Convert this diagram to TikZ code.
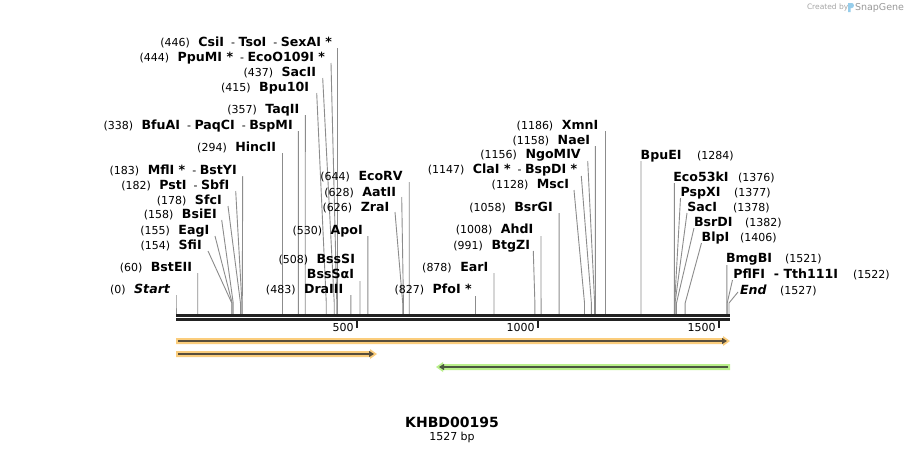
\documentclass[tikz,border=0pt]{standalone}
\usepackage{fontspec}
\setmainfont{DejaVu Sans}
\usetikzlibrary{arrows.meta,calc}
\definecolor{cutc}{RGB}{140,140,140}
\definecolor{bbc}{RGB}{34,34,34}
\definecolor{orf}{RGB}{251,205,124}
\definecolor{orl}{RGB}{88,78,60}
\definecolor{grf}{RGB}{186,240,140}
\definecolor{grl}{RGB}{74,88,62}
\definecolor{sgblue}{RGB}{150,205,235}
\newcommand\nm[1]{{\fontsize{12.6}{14}\selectfont\bfseries #1}}
\newcommand\gp{\hspace{8.5pt}}
\newcommand\dsh{\ \ -\ }
\tikzset{
  lab/.style={inner sep=0pt,outer sep=0pt,font=\fontsize{11}{13}\selectfont},
  cut/.style={draw=cutc,line width=0.9pt},
}
% left/middle label: id, text, right x, centre y, start x, start y, position
\newcommand\enzL[7]{%
  \node[lab,anchor=base east] (#1) at (#3,#4+4.5) {#2};
  \coordinate (#1-s) at (#5,#6);
  \coordinate (#1-b) at (176+#7*0.362148,303);
  \coordinate (#1-c) at (176+#7*0.362148,314);
  \draw[cut] (#1-s) -- (#1-b) -- (#1-c);
}
% right label: id, name, left x, centre y, number, number x, start x, start y, position
\newcommand\enzR[9]{%
  \node[lab,anchor=base west] (#1) at (#3,#4+4.5) {\nm{#2}};
  \node[lab,anchor=base west] (#1-n) at (#6,#4+4.5) {#5};
  \coordinate (#1-s) at (#7,#8);
  \coordinate (#1-b) at (176+#9*0.362148,303);
  \coordinate (#1-c) at (176+#9*0.362148,314);
  \draw[cut] (#1-s) -- (#1-b) -- (#1-c);
}
\begin{document}
\begin{tikzpicture}[x=1pt,y=-1pt]
\useasboundingbox (0,0) rectangle (906,453);
\fill[white] (0,0) rectangle (906,453);

% watermark
\node[lab,anchor=west,text=black!35,font=\fontsize{7.5}{9}\selectfont] (cb) at (807,7.5) {Created by};
\fill[sgblue] (848,3) -- (852,3) .. controls (854.5,3) and (854.5,8) .. (852,8) -- (850.5,8) -- (850.5,12) -- (848,12) -- cycle;
\node[lab,anchor=west,text=black!40,font=\fontsize{9.5}{11}\selectfont] (sg) at (855,7.5) {SnapGene};

% left cluster
\enzL{csi}{(446)\gp\nm{CsiI}\dsh\nm{TsoI}\dsh\nm{SexAI *}}{332}{42.3}{337.5}{48}{446}
\enzL{ppu}{(444)\gp\nm{PpuMI *}\dsh\nm{EcoO109I *}}{325}{57.3}{331}{63}{444}
\enzL{sac2}{(437)\gp\nm{SacII}}{316}{72.3}{322.7}{78}{437}
\enzL{bpu}{(415)\gp\nm{Bpu10I}}{309}{87.3}{316.7}{93}{415}
\enzL{taq}{(357)\gp\nm{TaqII}}{299.3}{109.3}{305.3}{115}{357}
\enzL{bfu}{(338)\gp\nm{BfuAI}\dsh\nm{PaqCI}\dsh\nm{BspMI}}{292.7}{125}{298.4}{131}{338}
\enzL{hinc}{(294)\gp\nm{HincII}}{276}{147.3}{282.5}{153}{294}
\enzL{mfl}{(183)\gp\nm{MflI *}\dsh\nm{BstYI}}{236.7}{170}{242.7}{176}{183}
\enzL{pst}{(182)\gp\nm{PstI}\dsh\nm{SbfI}}{229.3}{185}{235.7}{191}{182}
\enzL{sfc}{(178)\gp\nm{SfcI}}{221.7}{200}{228}{206}{178}
\enzL{bsie}{(158)\gp\nm{BsiEI}}{216.7}{214.3}{221.7}{220}{158}
\enzL{eag}{(155)\gp\nm{EagI}}{209.3}{230}{215}{236}{155}
\enzL{sfi}{(154)\gp\nm{SfiI}}{201.7}{245}{208}{251}{154}
\enzL{bste}{(60)\gp\nm{BstEII}}{192}{266.7}{197.7}{273}{60}
\enzL{start}{(0)\gp\nm{\itshape Start}}{170}{289.3}{176}{295}{0}

% middle cluster
\enzL{dra}{(483)\gp\nm{DraIII}}{343.3}{289.3}{350.9}{295}{483}
\enzL{bssa}{\nm{BssSαI}}{354}{274.3}{360}{281}{508}
\node[lab,anchor=base east] (bss) at (355,259.3+4.5) {(508)\gp\nm{BssSI}};
\enzL{apo}{(530)\gp\nm{ApoI}}{362.7}{230}{367.9}{236}{530}
\enzL{zra}{(626)\gp\nm{ZraI}}{389.3}{206.7}{395}{212}{626}
\enzL{aat}{(628)\gp\nm{AatII}}{396}{191.7}{401.7}{197}{628}
\enzL{ecorv}{(644)\gp\nm{EcoRV}}{402.7}{176}{409.2}{182}{644}
\enzL{pfo}{(827)\gp\nm{PfoI *}}{471.7}{289.3}{475.5}{296}{827}
\enzL{ear}{(878)\gp\nm{EarI}}{488.3}{266.7}{494}{273}{878}
\enzL{btg}{(991)\gp\nm{BtgZI}}{530}{245}{533.3}{251}{991}
\enzL{ahd}{(1008)\gp\nm{AhdI}}{533.3}{229.3}{541}{236}{1008}
\enzL{bsrg}{(1058)\gp\nm{BsrGI}}{552.7}{206.7}{559.1}{213}{1058}
\enzL{msc}{(1128)\gp\nm{MscI}}{569}{184}{574}{190}{1128}
\enzL{cla}{(1147)\gp\nm{ClaI *}\dsh\nm{BspDI *}}{577.3}{169.3}{581.3}{176}{1147}
\enzL{ngo}{(1156)\gp\nm{NgoMIV}}{580.7}{154.3}{587.7}{161}{1156}
\enzL{nae}{(1158)\gp\nm{NaeI}}{590}{140}{595.3}{146}{1158}
\enzL{xmn}{(1186)\gp\nm{XmnI}}{598.3}{125}{605.5}{131}{1186}

% right cluster
\enzR{bpue}{BpuEI}{640.7}{155}{(1284)}{697}{641}{161}{1284}
\enzR{eco53}{Eco53kI}{673.3}{176.7}{(1376)}{738}{674.3}{183}{1376}
\enzR{pspx}{PspXI}{680.7}{191.7}{(1377)}{734}{680.5}{198}{1377}
\enzR{saci}{SacI}{687.3}{206.7}{(1378)}{733}{687}{213}{1378}
\enzR{bsrd}{BsrDI}{694}{221.7}{(1382)}{745}{694}{228}{1382}
\enzR{blp}{BlpI}{701.7}{237.3}{(1406)}{740}{701.5}{243}{1406}
\enzR{bmgb}{BmgBI}{726}{258.3}{(1521)}{785}{726.8}{265}{1521}
\enzR{pflf}{PflFI\dsh\nm{Tth111I}}{733.3}{274}{(1522)}{853}{732.5}{280}{1522}
\enzR{end}{\itshape End}{740}{290}{(1527)}{780}{738}{292}{1527}

% backbone
\draw[bbc,line width=2.7pt] (176,315.3) -- (730,315.3);
\draw[bbc,line width=2.7pt] (176,319.4) -- (730,319.4);
\foreach \p/\t in {500/500,1000/1000,1500/1500}{
  \coordinate (tk\p) at (176+\p*0.362148,320);
  \draw[bbc,line width=2pt] (tk\p) -- ++(0,7.5);
  \node[lab,anchor=east] (tl\p) at ($(tk\p)+(-3.5,7)$) {\t};
}

% features
\fill[orf] (176,338) -- (723,338) -- (723,336) -- (730,341) -- (723,346) -- (723,344) -- (176,344) -- cycle;
\draw[orl,line width=2pt,-{Triangle[length=5pt,width=6pt]}] (178,341) -- (727,341);
\fill[orf] (176,351) -- (370,351) -- (370,349) -- (377,354) -- (370,359) -- (370,357) -- (176,357) -- cycle;
\draw[orl,line width=2pt,-{Triangle[length=5pt,width=6pt]}] (178,354) -- (374,354);
\fill[grf] (730,364) -- (443,364) -- (443,362) -- (436,367) -- (443,372) -- (443,370) -- (730,370) -- cycle;
\draw[grl,line width=2pt,-{Triangle[length=5pt,width=6pt]}] (728,367) -- (439,367);

% title
\node[lab,font=\fontsize{14}{16}\selectfont\bfseries] (title) at (452,422.5) {KHBD00195};
\node[lab,font=\fontsize{11}{13}\selectfont] (len) at (452,437) {1527 bp};
\end{tikzpicture}
\end{document}
